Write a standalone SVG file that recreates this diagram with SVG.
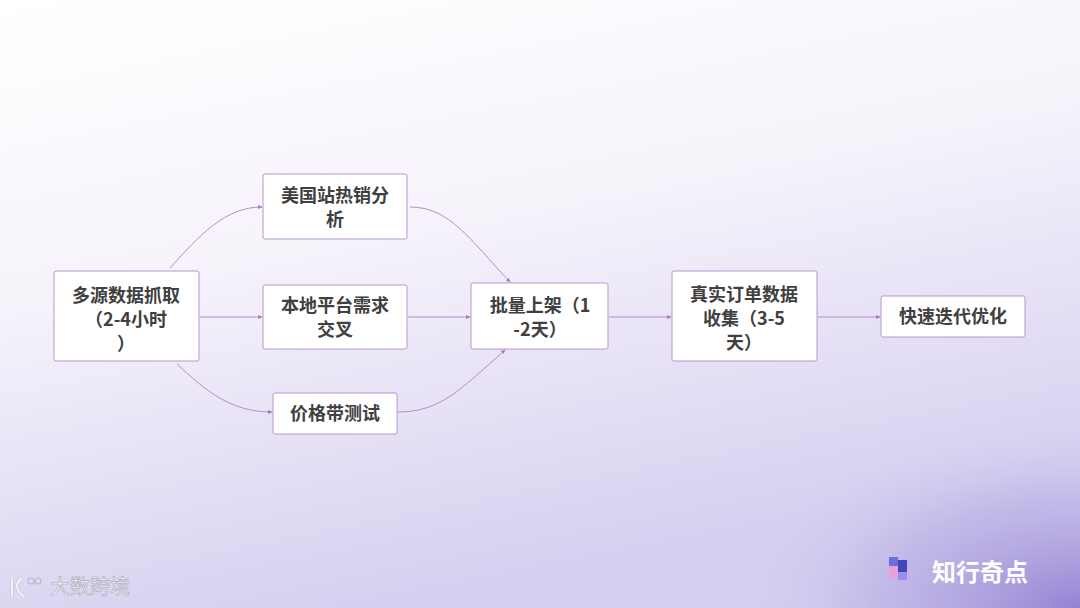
<svg xmlns="http://www.w3.org/2000/svg" width="1080" height="608" viewBox="0 0 1080 608">
<defs>
<linearGradient id="bg" x1="0" y1="0" x2="0.35" y2="1">
<stop offset="0" stop-color="#ffffff"/>
<stop offset="0.45" stop-color="#f6f3fb"/>
<stop offset="1" stop-color="#d6cff0"/>
</linearGradient>
<radialGradient id="corner" cx="1" cy="1" r="0.6">
<stop offset="0" stop-color="#9483d4" stop-opacity="1"/>
<stop offset="0.6" stop-color="#b2a6e0" stop-opacity="0.5"/>
<stop offset="1" stop-color="#d6cff0" stop-opacity="0"/>
</radialGradient>
<marker id="ar" viewBox="0 0 6 6" refX="5" refY="3" markerWidth="5" markerHeight="5" orient="auto">
<path d="M0,0.5 L6,3 L0,5.5 z" fill="#a77fc0"/>
</marker>
<style>
.n rect{fill:#fff;stroke:#b996cc;stroke-width:1}
.n text{font-family:"Noto Sans CJK SC","Liberation Sans",sans-serif;font-weight:bold;font-size:18px;fill:#404040;text-anchor:middle}
#edges path{fill:none;stroke:#b28fca;stroke-width:1;marker-end:url(#ar)}
</style>
</defs>
<rect width="1080" height="608" fill="url(#bg)"/>
<rect x="500" y="300" width="580" height="308" fill="url(#corner)"/>
<g id="edges">
<path d="M170,268 C200,235 225,207 262,207"/>
<path d="M200,317 L262,317"/>
<path d="M177,364 C205,390 230,412 272,412"/>
<path d="M410,207 C450,207 470,240 510,282"/>
<path d="M408,317 L470,317"/>
<path d="M398,412 C440,412 460,390 505,350"/>
<path d="M609,317 L671,317"/>
<path d="M818,317 L880,317"/>
</g>
<g id="n1" class="n"><rect x="54" y="271" width="145" height="90" rx="2"/><text x="126" y="302">多源数据抓取</text><text x="126" y="326">（2-4小时</text><text x="126" y="350">）</text></g>
<g id="n2" class="n"><rect x="263" y="174" width="144" height="65" rx="2"/><text x="335" y="202">美国站热销分</text><text x="335" y="226">析</text></g>
<g id="n3" class="n"><rect x="263" y="285" width="144" height="64" rx="2"/><text x="335" y="312">本地平台需求</text><text x="335" y="336">交叉</text></g>
<g id="n4" class="n"><rect x="273" y="393" width="124" height="41" rx="2"/><text x="335" y="420">价格带测试</text></g>
<g id="n5" class="n"><rect x="471" y="283" width="137" height="66" rx="2"/><text x="540" y="312">批量上架（1</text><text x="540" y="336">-2天）</text></g>
<g id="n6" class="n"><rect x="672" y="271" width="145" height="90" rx="2"/><text x="744" y="301">真实订单数据</text><text x="744" y="325">收集（3-5</text><text x="744" y="349">天）</text></g>
<g id="n7" class="n"><rect x="881" y="296" width="144" height="41" rx="2"/><text x="953" y="323">快速迭代优化</text></g>
<g id="logo-left" fill="none" stroke="#f4f4f8" stroke-width="2.2">
<path d="M12,578 L12,596 M22,578 C16,582 14,588 24,597" stroke="#b8b8c8" stroke-width="3"/>
<path d="M12,578 L12,596 M22,578 C16,582 14,588 24,597"/>
<circle cx="31" cy="581" r="3" stroke="#b8b8c8" stroke-width="1.2"/>
<circle cx="38" cy="581" r="3" stroke="#b8b8c8" stroke-width="1.2"/>
<text x="50" y="594" font-family="'Noto Sans CJK SC',sans-serif" font-size="20" fill="#f4f4f8" stroke="#a8a8b8" stroke-width="0.6">大数跨境</text>
</g>
<g id="logo-right">
<rect x="889" y="557" width="9" height="9" fill="#6a6fe0"/>
<rect x="898" y="560" width="9" height="12" fill="#4346b8"/>
<rect x="889" y="566" width="9" height="12" fill="#e9a0d8"/>
<rect x="898" y="572" width="9" height="8" fill="#9b8cf0"/>
<text x="932" y="581" font-family="'Noto Sans CJK SC',sans-serif" font-weight="bold" font-size="24" fill="#ffffff">知行奇点</text>
</g>
</svg>
